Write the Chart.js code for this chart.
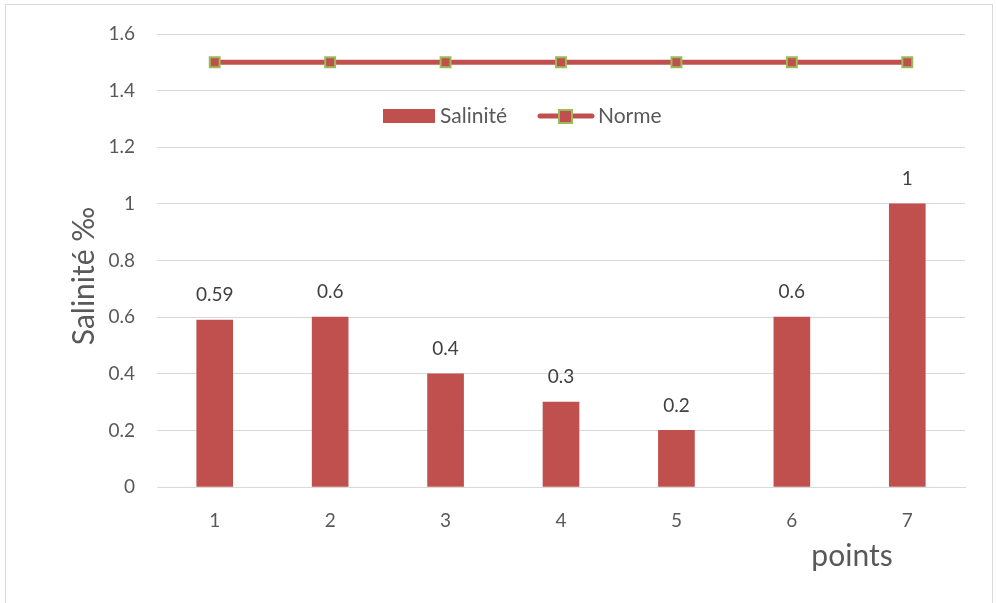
<!DOCTYPE html>
<html>
<head>
<meta charset="utf-8">
<script src="https://cdn.jsdelivr.net/npm/chart.js@4.4.1/dist/chart.umd.min.js"></script>
<style>
  html, body { margin: 0; padding: 0; background: #fff; }
  #wrap { position: relative; width: 997px; height: 603px; }
  #frame { position: absolute; left: 5px; top: 4px; width: 988px; height: 610px; border: 1px solid #d9d9d9; box-sizing: border-box; }
  canvas { position: absolute; left: 0; top: 0; }
</style>
</head>
<body>
<div id="wrap">
  <div id="frame"></div>
  <canvas id="salChart" width="997" height="603"></canvas>
</div>
<script>
// chart data
const points = ["1", "2", "3", "4", "5", "6", "7"];
const salinite = [0.59, 0.6, 0.4, 0.3, 0.2, 0.6, 1];
const norme = [1.5, 1.5, 1.5, 1.5, 1.5, 1.5, 1.5];
const yTicks = [0, 0.2, 0.4, 0.6, 0.8, 1, 1.2, 1.4, 1.6];

const FONT = "Lato, 'Open Sans', sans-serif";
const RED = '#c0504d';
const GREEN = '#9bbb59';
const TEXT = '#595959';

// labels over the bars, axis titles and the in-plot legend
const extras = {
  id: 'extras',
  afterDatasetsDraw(chart) {
    const ctx = chart.ctx;
    const meta = chart.getDatasetMeta(0);
    ctx.save();
    ctx.fillStyle = '#404040';
    ctx.font = '19px ' + FONT;
    ctx.textAlign = 'center';
    ctx.textBaseline = 'middle';
    meta.data.forEach((bar, i) => {
      ctx.fillText(String(salinite[i]), bar.x, bar.y - 25);
    });

    // axis titles
    ctx.fillStyle = TEXT;
    ctx.font = '30px ' + FONT;
    ctx.fillText('points', 852, 556);
    ctx.save();
    ctx.translate(84, 276);
    ctx.rotate(-Math.PI / 2);
    ctx.fillText('Salinité ‰', 0, 0);
    ctx.restore();

    // legend
    const ly = 116;
    ctx.fillStyle = RED;
    ctx.fillRect(383, ly - 7, 52, 14);
    ctx.fillStyle = TEXT;
    ctx.font = '21px ' + FONT;
    ctx.textAlign = 'left';
    ctx.fillText('Salinité', 440, ly);

    ctx.strokeStyle = RED;
    ctx.lineWidth = 5;
    ctx.lineCap = 'round';
    ctx.beginPath();
    ctx.moveTo(540, ly);
    ctx.lineTo(592, ly);
    ctx.stroke();
    ctx.fillStyle = RED;
    ctx.fillRect(559, ly - 6, 13, 13);
    ctx.strokeStyle = GREEN;
    ctx.lineWidth = 2;
    ctx.strokeRect(559, ly - 6, 13, 13);
    ctx.fillStyle = TEXT;
    ctx.fillText('Norme', 598, ly);
    ctx.restore();
  }
};

new Chart(document.getElementById('salChart').getContext('2d'), {
  data: {
    labels: points,
    datasets: [
      {
        type: 'bar',
        label: 'Salinité',
        data: salinite,
        backgroundColor: RED,
        barThickness: 36,
        order: 2
      },
      {
        type: 'line',
        label: 'Norme',
        data: norme,
        borderColor: RED,
        borderWidth: 5,
        pointStyle: 'rect',
        pointRadius: 7,
        pointBackgroundColor: RED,
        pointBorderColor: GREEN,
        pointBorderWidth: 2,
        order: 1
      }
    ]
  },
  options: {
    responsive: false,
    animation: false,
    layout: { padding: { top: 34, right: 32, left: 0, bottom: 0 } },
    scales: {
      x: {
        grid: { display: false, drawTicks: false },
        border: { color: '#d9d9d9', width: 1 },
        ticks: { color: TEXT, font: { family: FONT, size: 19 }, padding: 22 },
        afterFit(scale) { scale.height = 116; }
      },
      y: {
        min: 0,
        max: 1.6,
        afterBuildTicks(scale) { scale.ticks = yTicks.map(v => ({ value: v })); },
        grid: { color: '#d9d9d9', drawTicks: false },
        border: { display: false },
        ticks: {
          color: TEXT,
          font: { family: FONT, size: 19 },
          padding: 22,
          callback: v => String(Math.round(v * 10) / 10)
        },
        afterFit(scale) { scale.width = 157; }
      }
    },
    plugins: {
      legend: { display: false },
      tooltip: { enabled: false }
    }
  },
  plugins: [extras]
});
</script>
</body>
</html>
